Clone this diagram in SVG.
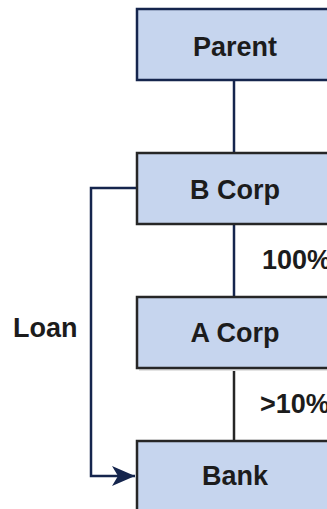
<svg xmlns="http://www.w3.org/2000/svg" width="327" height="509" viewBox="0 0 327 509">
<defs>
<style>
.box{fill:#c6d5ee;stroke-width:2.5}
.nav{stroke:#15254d}
.dk{stroke:#262626}
.lbl{font-family:"Liberation Sans",Arial,sans-serif;font-weight:bold;font-size:27px;fill:#1c1c1c}
.c{text-anchor:middle}
.ln{fill:none;stroke-width:2.5}
</style>
<marker id="arr" markerUnits="userSpaceOnUse" markerWidth="26" markerHeight="22" refX="23" refY="10" orient="auto">
<path d="M0,0 L23,10 L0,20 L6,10 Z" fill="#15254d"/>
</marker>
</defs>
<rect width="327" height="509" fill="#ffffff"/>
<g id="connectors">
<line class="ln nav" x1="234" y1="80" x2="234" y2="152"/>
<line class="ln nav" x1="234" y1="224" x2="234" y2="296"/>
<line class="ln dk" x1="234" y1="368" x2="234" y2="440"/>
<polyline class="ln nav" points="136,188 91,188 91,476 135,476" marker-end="url(#arr)"/>
</g>
<g id="parent">
<rect class="box nav" x="137" y="9" width="200" height="71"/>
<text class="lbl c" x="235" y="56">Parent</text>
</g>
<g id="bcorp">
<rect class="box dk" x="137" y="153" width="200" height="71"/>
<text class="lbl c" x="235" y="199">B Corp</text>
</g>
<g id="acorp">
<rect x="139" y="299" width="200" height="72" fill="#e3e3e3"/>
<rect class="box dk" x="137" y="297" width="200" height="71"/>
<text class="lbl c" x="235" y="342">A Corp</text>
</g>
<g id="bank">
<rect class="box dk" x="137" y="441" width="200" height="80"/>
<text class="lbl c" x="235" y="485">Bank</text>
</g>
<g id="labels">
<text class="lbl" x="262" y="269">100%</text>
<text class="lbl" x="260" y="413">&gt;10%</text>
<text class="lbl" x="13" y="337">Loan</text>
</g>
</svg>
